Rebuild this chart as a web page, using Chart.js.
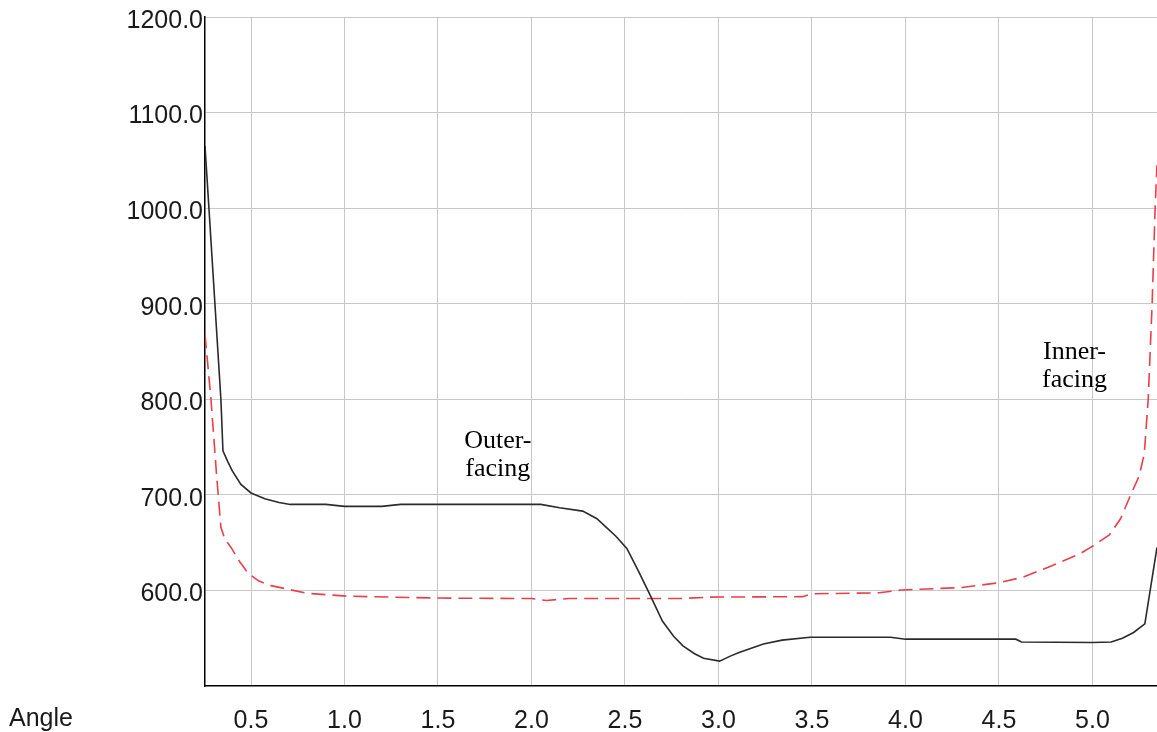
<!DOCTYPE html>
<html>
<head>
<meta charset="utf-8">
<script src="https://cdn.jsdelivr.net/npm/chart.js@4.4.1/dist/chart.umd.min.js"></script>
<style>
    body { margin: 0; background: #fff; }
    #wrap { width: 1157px; height: 732px; }
</style>
</head>
<body>
<div id="wrap"><canvas id="angleChart" width="1157" height="732"></canvas></div>
<script>
// values
const outerAngle = [0.254, 0.275, 0.307, 0.339, 0.350, 0.375, 0.40, 0.446, 0.50, 0.574, 0.65, 0.71, 0.90, 1.00, 1.20, 1.30, 1.60, 2.00, 2.05, 2.15, 2.274, 2.35, 2.40, 2.45, 2.51, 2.57, 2.63, 2.70, 2.76, 2.81, 2.87, 2.92, 3.006, 3.06, 3.11, 3.24, 3.34, 3.49, 3.92, 4.00, 4.59, 4.62, 5.00, 5.10, 5.16, 5.22, 5.28, 5.345];
const outerValue = [1065, 1000, 900, 800, 746, 735, 725, 711, 702, 696, 692, 690, 690, 688, 688, 690, 690, 690, 690, 686.5, 683, 675, 666, 657, 644, 621, 597, 568, 552, 542, 534, 529, 526, 531, 535, 544, 548, 551, 551, 549, 549, 546, 545.5, 546, 550, 556, 565, 645];

const innerAngle = [0.254, 0.286, 0.317, 0.339, 0.36, 0.393, 0.44, 0.484, 0.54, 0.607, 0.80, 1.01, 1.50, 2.00, 2.08, 2.20, 2.80, 2.95, 3.45, 3.50, 3.86, 3.98, 4.30, 4.50, 4.63, 4.76, 4.93, 4.99, 5.09, 5.15, 5.20, 5.25, 5.277, 5.298, 5.319, 5.335, 5.345];
const innerValue = [868, 800, 718, 666, 654, 645, 630, 618, 610, 605, 597, 594, 592, 591.5, 589.5, 591.5, 591.5, 593, 593.5, 596.5, 597.5, 600.5, 603, 608, 614, 624, 638, 645, 658, 675, 698, 720, 743, 800, 900, 1000, 1045];

const xTicks = [0.5, 1.0, 1.5, 2.0, 2.5, 3.0, 3.5, 4.0, 4.5, 5.0];
const yTicks = [600, 700, 800, 900, 1000, 1100, 1200];

const notes = [
    { lines: ["Outer-", "facing"], x: 1.82, y: 756 },
    { lines: ["Inner-", "facing"], x: 4.904, y: 849 }
];

function toPoints(xs, ys) {
    return xs.map((x, i) => ({ x: x, y: ys[i] }));
}

const notesPlugin = {
    id: "notes",
    afterDatasetsDraw(chart) {
        const ctx = chart.ctx;
        const xs = chart.scales.x;
        const ys = chart.scales.y;
        ctx.save();
        ctx.fillStyle = "#000";
        ctx.font = "26px 'Liberation Serif', 'Times New Roman', serif";
        ctx.textAlign = "center";
        ctx.textBaseline = "middle";
        notes.forEach(n => {
            const px = xs.getPixelForValue(n.x);
            const py = ys.getPixelForValue(n.y);
            n.lines.forEach((line, i) => ctx.fillText(line, px, py + i * 28));
        });
        ctx.font = "25px 'Liberation Sans', Arial, sans-serif";
        ctx.textAlign = "left";
        ctx.fillStyle = "#1a1a1a";
        ctx.fillText("Angle", 9, chart.chartArea.bottom + 33);
        ctx.restore();
    }
};

new Chart(document.getElementById("angleChart"), {
    type: "line",
    data: {
        datasets: [
            {
                label: "Outer-facing",
                data: toPoints(outerAngle, outerValue),
                borderColor: "#2b2b2b",
                borderWidth: 1.6,
                pointRadius: 0,
                tension: 0
            },
            {
                label: "Inner-facing",
                data: toPoints(innerAngle, innerValue),
                borderColor: "#e8404a",
                borderWidth: 1.6,
                borderDash: [14, 7],
                pointRadius: 0,
                tension: 0
            }
        ]
    },
    options: {
        responsive: false,
        animation: false,
        layout: { padding: { top: 15, right: 0, left: 0, bottom: 0 } },
        plugins: {
            legend: { display: false },
            tooltip: { enabled: false }
        },
        scales: {
            x: {
                type: "linear",
                min: 0.254,
                max: 5.345,
                afterBuildTicks: s => { s.ticks = xTicks.map(v => ({ value: v })); },
                afterFit: s => { s.height = 46; },
                grid: { color: "#c8c8c8", drawTicks: false },
                border: { color: "#000", width: 1.5 },
                ticks: {
                    padding: 20,
                    color: "#1a1a1a",
                    font: { family: "'Liberation Sans', Arial, sans-serif", size: 25 },
                    callback: v => Number(v).toFixed(1)
                }
            },
            y: {
                min: 500,
                max: 1200,
                afterBuildTicks: s => { s.ticks = yTicks.map(v => ({ value: v })); },
                afterFit: s => { s.width = 205; },
                grid: { color: "#c8c8c8", drawTicks: false },
                border: { color: "#000", width: 1.5 },
                ticks: {
                    padding: 2,
                    labelOffset: 4,
                    color: "#1a1a1a",
                    font: { family: "'Liberation Sans', Arial, sans-serif", size: 25 },
                    callback: v => Number(v).toFixed(1)
                }
            }
        }
    },
    plugins: [notesPlugin]
});
</script>
</body>
</html>
